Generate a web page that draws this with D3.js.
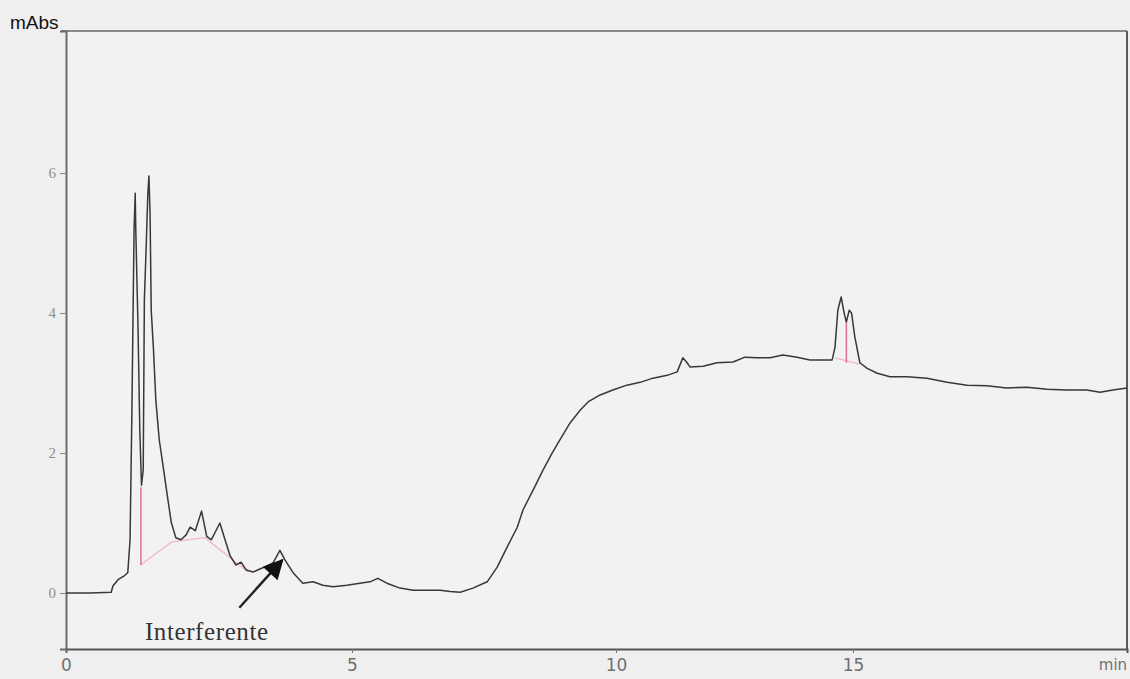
<!DOCTYPE html>
<html>
<head>
<meta charset="utf-8">
<script src="https://cdn.jsdelivr.net/npm/d3@7"></script>
<style>
  html, body { margin: 0; padding: 0; background: #efefef; }
  svg { display: block; }
</style>
</head>
<body>
<svg id="chart" width="1130" height="679"></svg>
<script>
// Chromatogram trace: retention time (min) and absorbance (mAbs)
const times = [
  0, 0.42, 0.79, 0.82, 0.91, 1.01, 1.08, 1.12, 1.15, 1.19, 1.21, 1.22, 1.26, 1.29, 1.32,
  1.35, 1.37, 1.40, 1.43, 1.45, 1.47, 1.49, 1.53, 1.57, 1.63, 1.70, 1.77, 1.84, 1.92,
  2.01, 2.10, 2.17, 2.26, 2.37, 2.46, 2.54, 2.69, 2.78, 2.87, 2.97, 3.06, 3.15, 3.27,
  3.44, 3.62, 3.74, 3.83, 3.97, 4.14, 4.32, 4.49, 4.67, 4.91, 5.15, 5.34, 5.49, 5.66,
  5.91, 6.16, 6.42, 6.67, 6.86, 7.05, 7.29, 7.56, 7.75, 7.94, 8.13, 8.24, 8.43, 8.62,
  8.79, 8.94, 9.13, 9.32, 9.47, 9.70, 9.94, 10.23, 10.51, 10.78, 11.08, 11.29, 11.35,
  11.41, 11.50, 11.56, 11.84, 12.13, 12.47, 12.72, 12.97, 13.25, 13.52, 13.82, 14.09,
  14.30, 14.56, 14.62, 14.68, 14.75, 14.81, 14.86, 14.92, 14.97, 15.04, 15.15, 15.31,
  15.53, 15.81, 16.18, 16.62, 17.06, 17.50, 17.93, 18.37, 18.81, 19.25, 19.69, 20.12,
  20.41, 20.69, 21.00
];
const absorbance = [
  0, 0, 0.01, 0.10, 0.19, 0.24, 0.29, 0.76, 2.47, 5.19, 5.71, 5.19, 3.76, 2.33, 1.54,
  1.76, 4.19, 4.90, 5.69, 5.96, 5.40, 4.04, 3.47, 2.76, 2.19, 1.80, 1.40, 1.01, 0.79,
  0.76, 0.83, 0.94, 0.89, 1.17, 0.81, 0.76, 1.00, 0.76, 0.53, 0.40, 0.44, 0.33, 0.30,
  0.36, 0.43, 0.61, 0.47, 0.29, 0.14, 0.16, 0.11, 0.09, 0.11, 0.14, 0.16, 0.21, 0.14,
  0.07, 0.04, 0.04, 0.04, 0.02, 0.01, 0.07, 0.16, 0.37, 0.66, 0.94, 1.19, 1.47, 1.76,
  2.00, 2.19, 2.43, 2.61, 2.73, 2.83, 2.90, 2.97, 3.01, 3.07, 3.11, 3.16, 3.26,
  3.36, 3.29, 3.23, 3.24, 3.29, 3.30, 3.37, 3.36, 3.36, 3.40, 3.37, 3.33,
  3.33, 3.33, 3.51, 4.04, 4.23, 4.01, 3.87, 4.04, 4.00, 3.66, 3.29, 3.21,
  3.14, 3.09, 3.09, 3.07, 3.01, 2.97, 2.96, 2.93, 2.94, 2.91, 2.90, 2.90,
  2.87, 2.90, 2.93
];

// Integration marks: peak cut lines [time, low, high] and baselines
const cutLines = [[1.31, 0.40, 1.51], [14.86, 3.29, 3.86]];
const leftBaseTimes = [1.30, 1.85, 2.43, 3.18];
const leftBaseValues = [0.40, 0.73, 0.79, 0.30];
const rightBaseTimes = [14.62, 15.15];
const rightBaseValues = [3.36, 3.27];

// Axis ticks
const xTicks = [0, 5, 10, 15];
const yTicks = [0, 2, 4, 6];
const timeBreaks = [0, 5, 10, 15, 21];

// Annotation
const noteText = "Interferente";
const noteAt = [1.38, -0.67];
const arrowFrom = [3.03, -0.21];
const arrowTo = [3.78, 0.47];

const svg = d3.select("#chart");
const plotL = 66, plotR = 1127, plotT = 31, plotB = 649;

const x = d3.scaleLinear().domain(timeBreaks).range([66, 352, 616, 853, 1127]);
const y = d3.scaleLinear().domain([-0.8, 8.03]).range([plotB, plotT]);

// plot area
svg.append("rect")
  .attr("x", plotL).attr("y", plotT)
  .attr("width", plotR - plotL).attr("height", plotB - plotT)
  .attr("fill", "#f2f2f2");

// frame lines
svg.append("line").attr("x1", plotL - 5).attr("x2", plotR).attr("y1", plotT).attr("y2", plotT)
  .attr("stroke", "#8a8a8a").attr("stroke-width", 2.2);
svg.append("line").attr("x1", plotR).attr("x2", plotR).attr("y1", plotT).attr("y2", plotB)
  .attr("stroke", "#5a5a5a").attr("stroke-width", 2);

// y axis
const yAxis = d3.axisLeft(y).tickValues(yTicks).tickSize(6).tickPadding(4)
  .tickFormat(d3.format("d"));
const gy = svg.append("g").attr("transform", `translate(${plotL},0)`).call(yAxis);
gy.select(".domain").attr("stroke", "#6a6a6a").attr("stroke-width", 2);
gy.selectAll(".tick line").attr("stroke", "#888");
gy.selectAll(".tick text")
  .attr("fill", "#8f8f8f")
  .style("font-family", "'Liberation Serif', serif")
  .style("font-size", "15px");

// x axis
const xAxis = d3.axisBottom(x).tickValues(xTicks).tickSize(4).tickPadding(6)
  .tickFormat(d3.format("d"));
const gx = svg.append("g").attr("transform", `translate(0,${plotB})`).call(xAxis);
gx.select(".domain").attr("stroke", "#555").attr("stroke-width", 2);
gx.selectAll(".tick line").attr("stroke", "#777");
gx.selectAll(".tick text")
  .attr("fill", "#6f6f6f")
  .style("font-family", "'DejaVu Sans', sans-serif")
  .style("font-size", "17px");

svg.append("text")
  .attr("x", 1113).attr("y", 670)
  .attr("text-anchor", "middle")
  .attr("fill", "#6f6f6f")
  .style("font-family", "'DejaVu Sans', sans-serif")
  .style("font-size", "15px")
  .text("min");

svg.append("text")
  .attr("x", 10).attr("y", 29)
  .attr("fill", "#111")
  .style("font-family", "'Liberation Sans', Arial, sans-serif")
  .style("font-size", "19px")
  .text("mAbs");

// baselines and cut lines
const line = d3.line().x(d => x(d[0])).y(d => y(d[1]));
svg.append("path")
  .datum(d3.zip(leftBaseTimes, leftBaseValues))
  .attr("d", line).attr("fill", "none")
  .attr("stroke", "#f0a8b8").attr("stroke-width", 1.2).attr("opacity", 0.8);
svg.append("path")
  .datum(d3.zip(rightBaseTimes, rightBaseValues))
  .attr("d", line).attr("fill", "none")
  .attr("stroke", "#f0a8b8").attr("stroke-width", 1.2).attr("opacity", 0.8);
svg.selectAll(".cut").data(cutLines).join("line")
  .attr("class", "cut")
  .attr("x1", d => x(d[0])).attr("x2", d => x(d[0]))
  .attr("y1", d => y(d[1])).attr("y2", d => y(d[2]))
  .attr("stroke", "#e0708a").attr("stroke-width", 1.5);

// chromatogram trace
svg.append("path")
  .datum(d3.zip(times, absorbance))
  .attr("d", line)
  .attr("fill", "none")
  .attr("stroke", "#383838")
  .attr("stroke-width", 1.5)
  .attr("stroke-linejoin", "round");

// annotation arrow and label
svg.append("defs").append("marker")
  .attr("id", "head")
  .attr("viewBox", "0 0 10 10")
  .attr("refX", 9).attr("refY", 5)
  .attr("markerWidth", 26).attr("markerHeight", 20)
  .attr("markerUnits", "userSpaceOnUse")
  .attr("orient", "auto")
  .append("path").attr("d", "M0,0 L10,5 L0,10 z").attr("fill", "#111");

svg.append("line")
  .attr("x1", x(arrowFrom[0])).attr("y1", y(arrowFrom[1]))
  .attr("x2", x(arrowTo[0])).attr("y2", y(arrowTo[1]))
  .attr("stroke", "#222").attr("stroke-width", 2.4)
  .attr("marker-end", "url(#head)");

svg.append("text")
  .attr("x", x(noteAt[0])).attr("y", y(noteAt[1]))
  .attr("fill", "#333")
  .style("font-family", "'Liberation Serif', 'Times New Roman', serif")
  .style("font-size", "25px")
  .style("letter-spacing", "0.6px")
  .text(noteText);
</script>
</body>
</html>
